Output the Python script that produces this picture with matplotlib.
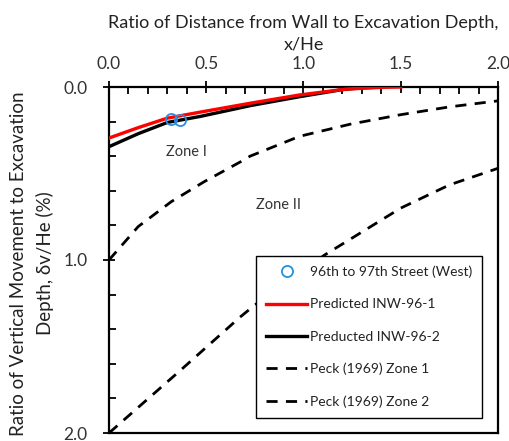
import matplotlib
matplotlib.use("Agg")
import matplotlib.pyplot as plt
from matplotlib.ticker import MultipleLocator, FormatStrFormatter

plt.rcParams['font.family'] = ['Lato', 'DejaVu Sans']

# Data
obs_x = [0.32, 0.365]
obs_y = [0.185, 0.189]

pred1_x = [0.0, 0.15, 0.30, 0.47, 0.725, 0.98, 1.22, 1.40, 1.50]
pred1_y = [0.295, 0.235, 0.18, 0.145, 0.094, 0.046, 0.012, 0.002, 0.0]

pred2_x = [0.0, 0.15, 0.30, 0.47, 0.725, 0.98, 1.20, 1.30, 1.40]
pred2_y = [0.345, 0.27, 0.205, 0.17, 0.108, 0.056, 0.015, 0.005, 0.0]

peck1_x = [0.0, 0.15, 0.32, 0.49, 0.68, 0.725, 0.98, 1.24, 1.50, 1.75, 2.0]
peck1_y = [1.0, 0.807, 0.663, 0.547, 0.43, 0.40, 0.285, 0.215, 0.16, 0.115, 0.08]

peck2_x = [0.0, 0.365, 0.674, 0.75, 1.11, 1.24, 1.50, 1.75, 2.0]
peck2_y = [2.0, 1.64, 1.33, 1.26, 0.97, 0.88, 0.70, 0.566, 0.47]

zone_labels = ["Zone I", "Zone II"]
zone_x = [0.40, 0.87]
zone_y = [0.376, 0.68]

fig = plt.figure(figsize=(5.10, 4.41), dpi=100)
ax = fig.add_axes([109/510, 1-433/441, 389/510, 346/441])

ax.plot(obs_x, obs_y, linestyle='none', marker='o', markersize=8,
        markerfacecolor='none', markeredgecolor='#2a8fd8', markeredgewidth=1.3,
        label='96th to 97th Street (West)', zorder=5)
ax.plot(pred1_x, pred1_y, color='#ff0000', lw=2.4, label='Predicted INW-96-1', zorder=4)
ax.plot(pred2_x, pred2_y, color='black', lw=2.4, label='Preducted INW-96-2', zorder=3)
ax.plot(peck1_x, peck1_y, color='black', lw=2.0, dashes=(4, 3), label='Peck (1969) Zone 1')
ax.plot(peck2_x, peck2_y, color='black', lw=2.0, dashes=(4, 3), label='Peck (1969) Zone 2')

for t, x, y in zip(zone_labels, zone_x, zone_y):
    ax.text(x, y, t, ha='center', va='center', fontsize=10.5, color='#333333')

ax.set_xlim(0, 2.0)
ax.set_ylim(2.0, 0.0)
ax.xaxis.tick_top()
ax.xaxis.set_label_position('top')
ax.xaxis.set_major_locator(MultipleLocator(0.5))
ax.xaxis.set_minor_locator(MultipleLocator(0.1))
ax.yaxis.set_major_locator(MultipleLocator(1.0))
ax.yaxis.set_minor_locator(MultipleLocator(0.2))
ax.xaxis.set_major_formatter(FormatStrFormatter('%.1f'))
ax.yaxis.set_major_formatter(FormatStrFormatter('%.1f'))
ax.tick_params(which='major', direction='inout', length=9, width=1.3,
               labelsize=12.5, colors='black', labelcolor='#333333')
ax.tick_params(axis='x', which='major', pad=6)
ax.tick_params(axis='y', which='major', pad=11)
ax.tick_params(which='minor', direction='in', length=5, width=1.3)
for s in ax.spines.values():
    s.set_linewidth(1.6)
    s.set_color('black')

ax.set_xlabel('Ratio of Distance from Wall to Excavation Depth,\nx/He',
              fontsize=13, color='#222222', labelpad=5, linespacing=1.45)
ax.set_ylabel('Ratio of Vertical Movement to Excavation\nDepth, \u03b4v/He (%)',
              fontsize=13.5, color='#222222', linespacing=1.55)
ax.yaxis.set_label_coords(-0.142, 0.49)

leg = ax.legend(loc='upper left', bbox_to_anchor=(0.378, 0.5116), fontsize=10,
                frameon=True, fancybox=False, edgecolor='black', framealpha=1,
                handlelength=3.0, labelspacing=1.45, borderpad=0.7,
                handletextpad=0.2, borderaxespad=0)
leg.get_frame().set_linewidth(1.0)
for t in leg.get_texts():
    t.set_color('#222222')

fig.savefig('out.png', dpi=100)
